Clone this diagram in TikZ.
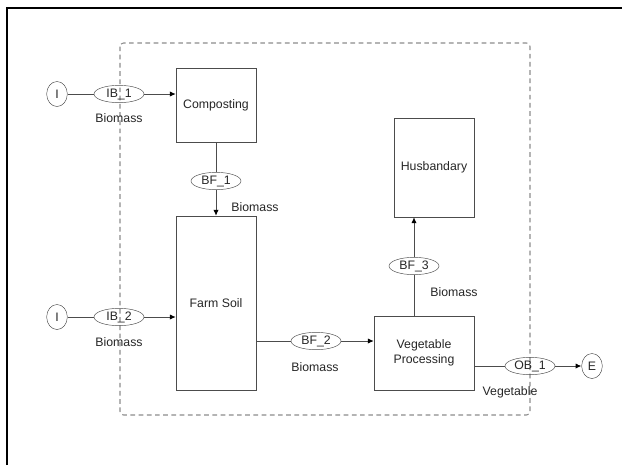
\documentclass[tikz,border=0pt]{standalone}
\usepackage{fontspec}
\setmainfont{Liberation Sans}
\usepackage{tikz}
\usetikzlibrary{shapes.geometric, arrows.meta, positioning, calc}

\begin{document}
\begin{tikzpicture}[x=0.03cm, y=-0.03cm, >={Latex[length=5pt,width=4.5pt,color=black]},
  every node/.style={font=\fontsize{10.5}{12.5}\selectfont, text=black!85},
  proc/.style={draw=black!70, fill=white, inner sep=0pt},
  flow/.style={draw=black!70, ellipse, minimum width=1.5cm, minimum height=0.52cm, inner sep=0pt},
  term/.style={draw=black!70, ellipse, minimum width=0.62cm, minimum height=0.75cm, inner sep=0pt},
  conn/.style={draw=black!70, line width=0.8pt}]
  \useasboundingbox (0,0) rectangle (622,465);
  \draw[line width=2.2pt] (7,465) -- (7,8) -- (622,8);
  \draw[black!45, dashed, dash pattern=on 4pt off 3pt, line width=0.9pt, rounded corners=3pt] (120,43) rectangle (530,415);

  % processes
  \node[proc, minimum width=2.4cm, minimum height=2.22cm] (comp) at (216,105) {Composting};
  \node[proc, minimum width=2.4cm, minimum height=5.22cm] (farm) at (216,303) {Farm Soil};
  \node[proc, minimum width=3.0cm, minimum height=2.22cm, align=center] (veg) at (424,353) {Vegetable\\Processing};
  \node[proc, minimum width=2.4cm, minimum height=2.97cm] (hus) at (434,167.5) {Husbandary};

  % inputs
  \node[term] (i1) at (57,94) {I};
  \node[flow] (ib1) at (119,94) {IB\_1};
  \node (lb1) at (119,118) {Biomass};
  \node[term] (i2) at (57,317) {I};
  \node[flow] (ib2) at (119,317) {IB\_2};
  \node (lb2) at (119,342) {Biomass};

  % internal flows
  \node[flow] (bf1) at (216,181) {BF\_1};
  \node (lbf1) at (255,207) {Biomass};
  \node[flow] (bf2) at (316,341) {BF\_2};
  \node (lbf2) at (315,367) {Biomass};
  \node[flow] (bf3) at (414,266) {BF\_3};
  \node (lbf3) at (454,292) {Biomass};

  % output
  \node[flow] (ob1) at (530,366) {OB\_1};
  \node (lob1) at (510,392) {Vegetable};
  \node[term] (e1) at (592,366) {E};

  \draw[conn] (i1) -- (ib1);
  \draw[conn, ->] (ib1) -- (ib1.east -| comp.west);
  \draw[conn] (comp) -- (bf1);
  \draw[conn, ->] (bf1) -- (farm.north);
  \draw[conn] (i2) -- (ib2);
  \draw[conn, ->] (ib2) -- (ib2.east -| farm.west);
  \draw[conn] (farm.east |- bf2) -- (bf2);
  \draw[conn, ->] (bf2) -- (bf2.east -| veg.west);
  \draw[conn] (bf3 |- veg.north) -- (bf3);
  \draw[conn, ->] (bf3) -- (bf3 |- hus.south);
  \draw[conn] (veg.east |- ob1) -- (ob1);
  \draw[conn, ->] (ob1) -- (e1);
\end{tikzpicture}
\end{document}
